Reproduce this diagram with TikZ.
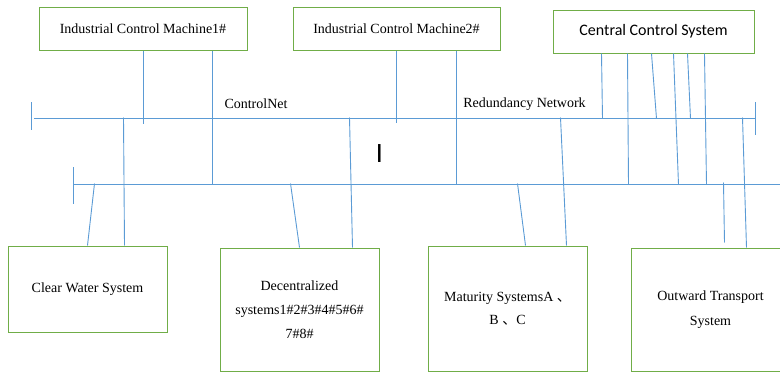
\documentclass[tikz,border=0pt]{standalone}
\usepackage{fontspec}
\setmainfont{Liberation Serif}
\newfontfamily\calib{Carlito}
\newfontfamily\cjk{Noto Sans CJK SC}
\usetikzlibrary{calc}

\definecolor{boxgreen}{RGB}{112,173,71}
\definecolor{netblue}{RGB}{91,155,213}

\begin{document}
\begin{tikzpicture}[x=1pt,y=-1pt,
        pcbox/.style={draw=boxgreen, line width=1pt,
            minimum height=43pt,
            font=\rmfamily\fontsize{14}{17}\selectfont},
        sysbox/.style={draw=boxgreen, line width=1pt,
            minimum width=159pt,
            align=center,
            font=\rmfamily\fontsize{14}{24}\selectfont},
        link/.style={draw=netblue, line width=0.9pt},
        netlabel/.style={font=\rmfamily\fontsize{14}{17}\selectfont},
    ]
        \useasboundingbox (0,0) rectangle (780,372);
        \clip (0,0) rectangle (780,372);

        % upper machines
        \node[pcbox, minimum width=208pt] (icmA) at (143,28.5) {Industrial Control Machine1\#};
        \node[pcbox, minimum width=207pt] (icmB) at (396.5,28.5) {Industrial Control Machine2\#};
        \node[pcbox, minimum width=201pt, font=\calib\fontsize{16}{19}\selectfont] (ccs) at (653.5,31.5) {Central Control System};

        % lower systems
        \node[sysbox, minimum height=86pt] (cws) at (87.5,289) {Clear Water System};
        \node[sysbox, minimum height=123pt] (dcs) at (299.5,309.5) {Decentralized\\systems1\#2\#3\#4\#5\#6\#\\7\#8\#};
        \node[sysbox, minimum height=125pt, font=\rmfamily\fontsize{14}{23}\selectfont] (mts) at (507.5,308.5) {Maturity SystemsA {\cjk 、}\\B {\cjk 、}C};
        \node[sysbox, minimum height=123pt, font=\rmfamily\fontsize{14}{25}\selectfont] (ots) at (710.5,309.5) {Outward Transport\\System};

        % the two networks
        \coordinate (cnW) at (34,118);
        \coordinate (cnE) at (755,118);
        \coordinate (rnW) at (73,184);
        \coordinate (rnE) at (780,184);
        \draw[link] (cnW) -- (cnE);
        \draw[link] ([xshift=-3pt,yshift=16pt]cnW) -- ++(0,28);
        \draw[link] ([yshift=16pt]cnE) -- ++(0,33);
        \draw[link] (rnW) -- (rnE);
        \draw[link] ([yshift=17pt]rnW) -- ++(0,37);

        \node[netlabel] (cnLabel) at (256,104) {ControlNet};
        \node[netlabel] (rnLabel) at (524.5,104) {Redundancy Network};
        \node[font=\calib\fontsize{28}{28}\selectfont, inner sep=0pt] (cursor) at (379.5,154) {I};

        % machines to networks
        \draw[link] ([xshift=105pt]icmA.south west) -- ++(0,73);
        \draw[link] ([xshift=174pt]icmA.south west) -- ++(0,134);
        \draw[link] ([xshift=104pt]icmB.south west) -- ++(0,72);
        \draw[link] ([xshift=164pt]icmB.south west) -- ++(0,134);

        \draw[link] ([xshift=49pt]ccs.south west) -- ++(1,65);
        \draw[link] ([xshift=75pt]ccs.south west) -- ++(1,131);
        \draw[link] ([xshift=99pt]ccs.south west) -- ++(5,65);
        \draw[link] ([xshift=121pt]ccs.south west) -- ++(5,131);
        \draw[link] ([xshift=135pt]ccs.south west) -- ++(3,65);
        \draw[link] ([xshift=152pt]ccs.south west) -- ++(2,131);

        % systems to networks
        \draw[link] ([xshift=80pt]cws.north west) -- ++(7,-62);
        \draw[link] ([xshift=117pt]cws.north west) -- ++(-1,-128);
        \draw[link] ([xshift=80pt]dcs.north west) -- ++(-9,-64);
        \draw[link] ([xshift=133pt]dcs.north west) -- ++(-3,-130);
        \draw[link] ([xshift=98pt]mts.north west) -- ++(-8,-62);
        \draw[link] ([xshift=139pt]mts.north west) -- ++(-6,-128);
        \draw[link] ([xshift=94pt,yshift=5pt]ots.north west) -- ++(-1,-60);
        \draw[link] ([xshift=116pt]ots.north west) -- ++(-4,-130);
      \end{tikzpicture}
\end{document}
